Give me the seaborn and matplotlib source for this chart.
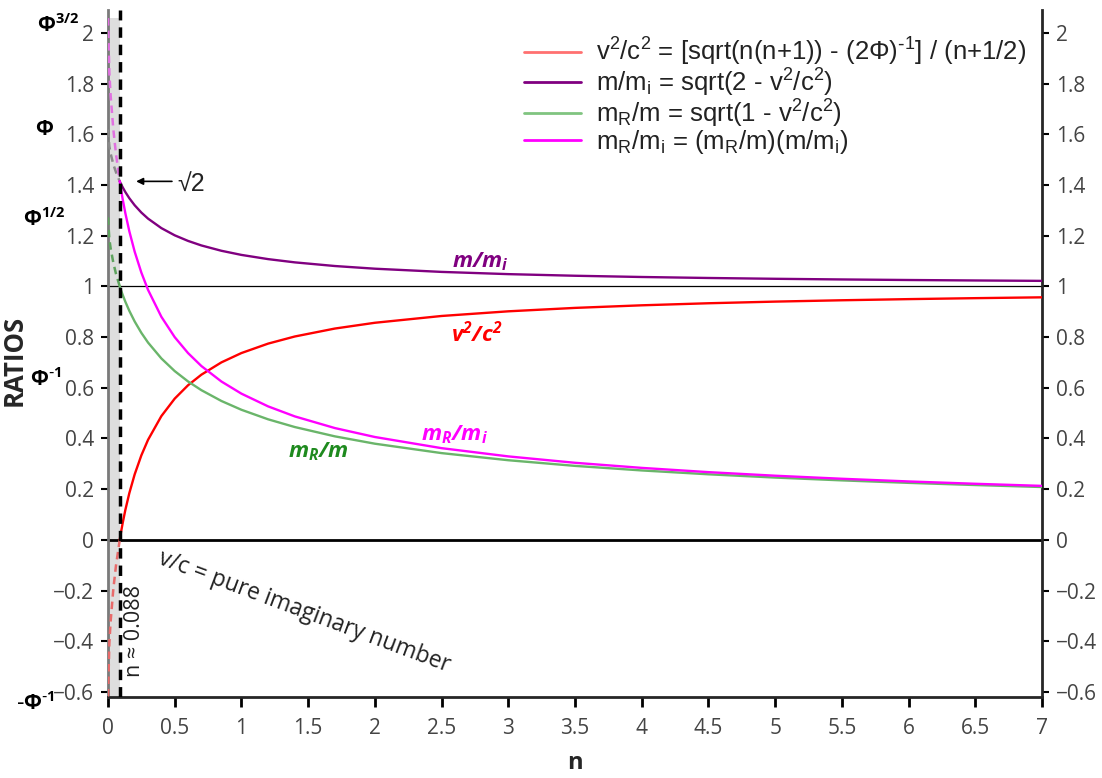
import matplotlib
matplotlib.use("Agg")
import matplotlib.pyplot as plt
import matplotlib.transforms as mtransforms
from matplotlib.lines import Line2D
import seaborn as sns
import pandas as pd

# ---------------- data ----------------
n_dash = [0.0, 0.01, 0.02, 0.04, 0.06, 0.088]
v2c2_dash = [-0.618, -0.409, -0.320, -0.194, -0.101, 0.0]
m_mi_dash = [1.618, 1.552, 1.523, 1.481, 1.450, 1.414]
mR_m_dash = [1.272, 1.187, 1.149, 1.093, 1.049, 1.0]
mR_mi_dash = [2.058, 1.842, 1.750, 1.619, 1.521, 1.414]

n_vals = [0.088, 0.095, 0.11, 0.13, 0.16, 0.2, 0.25, 0.3, 0.4, 0.5, 0.6, 0.7,
          0.85, 1.0, 1.2, 1.4, 1.7, 2.0, 2.5, 3.0, 3.5, 4.0, 4.5, 5.0, 5.5,
          6.0, 6.5, 7.0]
v2c2 = [0.0, 0.0227, 0.0662, 0.1179, 0.1845, 0.2584, 0.3333, 0.3944, 0.4881,
        0.5570, 0.6098, 0.6515, 0.7000, 0.7368, 0.7740, 0.8021, 0.8334, 0.8562,
        0.8830, 0.9014, 0.9149, 0.9251, 0.9332, 0.9397, 0.9450, 0.9495, 0.9533,
        0.9566]
m_mi = [1.4142, 1.4062, 1.3906, 1.3719, 1.3474, 1.3197, 1.2910, 1.2671, 1.2296,
        1.2012, 1.1791, 1.1612, 1.1402, 1.1239, 1.1073, 1.0945, 1.0801, 1.0695,
        1.0569, 1.0481, 1.0417, 1.0368, 1.0329, 1.0297, 1.0271, 1.0249, 1.0231,
        1.0215]
mR_m = [1.0, 0.9886, 0.9663, 0.9392, 0.9031, 0.8612, 0.8165, 0.7782, 0.7155,
        0.6656, 0.6247, 0.5903, 0.5477, 0.5130, 0.4754, 0.4449, 0.4082, 0.3792,
        0.3421, 0.3140, 0.2917, 0.2737, 0.2585, 0.2456, 0.2345, 0.2247, 0.2161,
        0.2083]
mR_mi = [1.4142, 1.3902, 1.3437, 1.2885, 1.2168, 1.1365, 1.0541, 0.9861, 0.8798,
         0.7995, 0.7366, 0.6855, 0.6245, 0.5766, 0.5264, 0.4869, 0.4409, 0.4056,
         0.3616, 0.3291, 0.3039, 0.2838, 0.2670, 0.2529, 0.2409, 0.2303, 0.2211,
         0.2128]

phi_ticks = [2.058, 1.618, 1.272, 0.618, -0.618]
phi_label_y = [2.03, 1.618, 1.265, 0.632, -0.645]
phi_labels = [r"$\mathregular{Φ^{3/2}}$", "Φ", r"$\mathregular{Φ^{1/2}}$",
              r"$\mathregular{Φ^{\text{-}1}}$", r"$\mathregular{\text{-}Φ^{\text{-}1}}$"]
phi_label_x = [58, 44, 44, 46, 36]   # pixel centres

y_ticks = [-0.6, -0.4, -0.2, 0, 0.2, 0.4, 0.6, 0.8, 1, 1.2, 1.4, 1.6, 1.8, 2]
x_ticks = [0, 0.5, 1, 1.5, 2, 2.5, 3, 3.5, 4, 4.5, 5, 5.5, 6, 6.5, 7]
n_crit = 0.088

legend_labels = [
    r"$\mathregular{v^2/c^2}$ = [sqrt(n(n+1)) - $\mathregular{(2Φ)^{\text{-}1}}$] / (n+1/2)",
    r"$\mathregular{m/m_i}$ = sqrt(2 - $\mathregular{v^2/c^2}$)",
    r"$\mathregular{m_R/m}$ = sqrt(1 - $\mathregular{v^2/c^2}$)",
    r"$\mathregular{m_R/m_i}$ = $\mathregular{(m_R/m)(m/m_i)}$",
]

# ---------------- figure ----------------
sns.set_style("ticks")
plt.rcParams["font.family"] = ["Open Sans", "DejaVu Sans"]
plt.rcParams["axes.unicode_minus"] = True

W, H = 1102, 778
fig = plt.figure(figsize=(W / 100, H / 100), dpi=100)
ax = fig.add_axes([108 / W, 1 - 697 / H, (1042 - 108) / W, (697 - 10) / H])

ax.set_xlim(0, 7)
ax.set_ylim(-0.62, 2.09)

# gray band + critical line
ax.axvspan(0, n_crit, ymin=0, ymax=(2.058 + 0.62) / 2.71, color="#dedede", zorder=0, lw=0)
ax.axvline(n_crit, color="black", lw=2.5, ls=(0, (3, 2)), zorder=5)
ax.axhline(0, color="black", lw=2, zorder=1)
ax.axhline(1, color="black", lw=0.9, zorder=1)

solid = pd.DataFrame({"n": n_vals, "v2c2": v2c2, "m_mi": m_mi, "mR_m": mR_m, "mR_mi": mR_mi})
dash = pd.DataFrame({"n": n_dash, "v2c2": v2c2_dash, "m_mi": m_mi_dash,
                     "mR_m": mR_m_dash, "mR_mi": mR_mi_dash})

cols = ["v2c2", "m_mi", "mR_m", "mR_mi"]
solid_colors = ["#ff0000", "#800080", "#6ab56a", "#ff00ff"]
dash_colors = ["#e86a6a", "#8a8a8a", "#5ea35e", "#e070e0"]
legend_colors = ["#ff7070", "#800080", "#80c480", "#ff00ff"]

for c, sc, dc in zip(cols, solid_colors, dash_colors):
    sns.lineplot(data=dash, x="n", y=c, ax=ax, color=dc, lw=1.8,
                 linestyle=(0, (3, 2)), zorder=3)
    sns.lineplot(data=solid, x="n", y=c, ax=ax, color=sc, lw=1.7, zorder=4)

# legend
handles = [Line2D([], [], color=lc, lw=2) for lc in legend_colors]
leg = ax.legend(handles, legend_labels, loc="upper right", bbox_to_anchor=(1.0, 0.985),
                frameon=False, handlelength=2.2, handletextpad=0.6, labelspacing=-0.05,
                borderaxespad=0.2, prop={"family": "Liberation Sans", "size": 18.5})
for t in leg.get_texts():
    t.set_color("#222222")

# spines / ticks
ax.spines["top"].set_visible(False)
ax.spines["left"].set_color("#7a7a7a")
ax.spines["left"].set_linewidth(2)
ax.spines["right"].set_linewidth(2)
ax.spines["bottom"].set_linewidth(2)
ax.set_xticks(x_ticks)
ax.set_xticklabels([f"{v:g}" for v in x_ticks])
ax.set_yticks(y_ticks)
ax.set_yticklabels([f"{v:g}".replace("-", "\u2212") for v in y_ticks])
ax.tick_params(axis="both", direction="out", length=6, width=2, color="black",
               labelsize=15, labelcolor="#444444", pad=5)
ax.tick_params(axis="x", length=7, pad=8)
ax.tick_params(axis="y", right=True, labelright=True, width=1.5, length=5)
ax.set_xlabel("n", fontsize=17, fontweight="bold")
ax.xaxis.set_label_coords(0.5, -(751 - 697) / 687)
ax.set_ylabel("RATIOS", fontsize=18.5, fontweight="bold")
ax.yaxis.set_label_coords(-(108 - 28) / (1042 - 108), (697 - 360) / 687)

# phi labels
trans = mtransforms.blended_transform_factory(fig.transFigure, ax.transData)
for v, lab, px in zip(phi_label_y, phi_labels, phi_label_x):
    ax.text(px / W, v, lab, transform=trans, ha="center", va="center",
            fontsize=15, fontweight="bold", color="black", clip_on=False)

# curve labels
lab_kw = dict(fontsize=16, fontweight="bold", style="italic", ha="center", va="center")
ax.text(2.79, 1.097, r"$\mathregular{m/m_i}$", color="#800080", **lab_kw)
ax.text(2.76, 0.815, r"$\mathregular{v^2/c^2}$", color="#ff0000", **lab_kw)
ax.text(2.60, 0.414, r"$\mathregular{m_R/m_i}$", color="#ff00ff", **lab_kw)
ax.text(1.574, 0.347, r"$\mathregular{m_R/m}$", color="#1e8a1e", **lab_kw)

# sqrt(2) arrow
ax.annotate("", xy=(0.19, 1.414), xytext=(0.5, 1.414),
            arrowprops=dict(arrowstyle="-|>", color="black", lw=1.2, mutation_scale=10))
ax.text(0.52, 1.404, "√2", fontsize=18, family=["Liberation Sans", "DejaVu Sans"],
        ha="left", va="center", color="#222222")

# n ~ 0.088 and imaginary note
ax.text(0.2, -0.36, "n ≈ 0.088", rotation=90, fontsize=15.5, ha="center", va="center",
        family=["Open Sans", "DejaVu Sans"], color="#222222")
ax.text(1.47, -0.284, "v/c = pure imaginary number", rotation=-20.5, fontsize=16.5,
        ha="center", va="center", color="#222222", rotation_mode="anchor")

fig.savefig("out.png", dpi=100)
